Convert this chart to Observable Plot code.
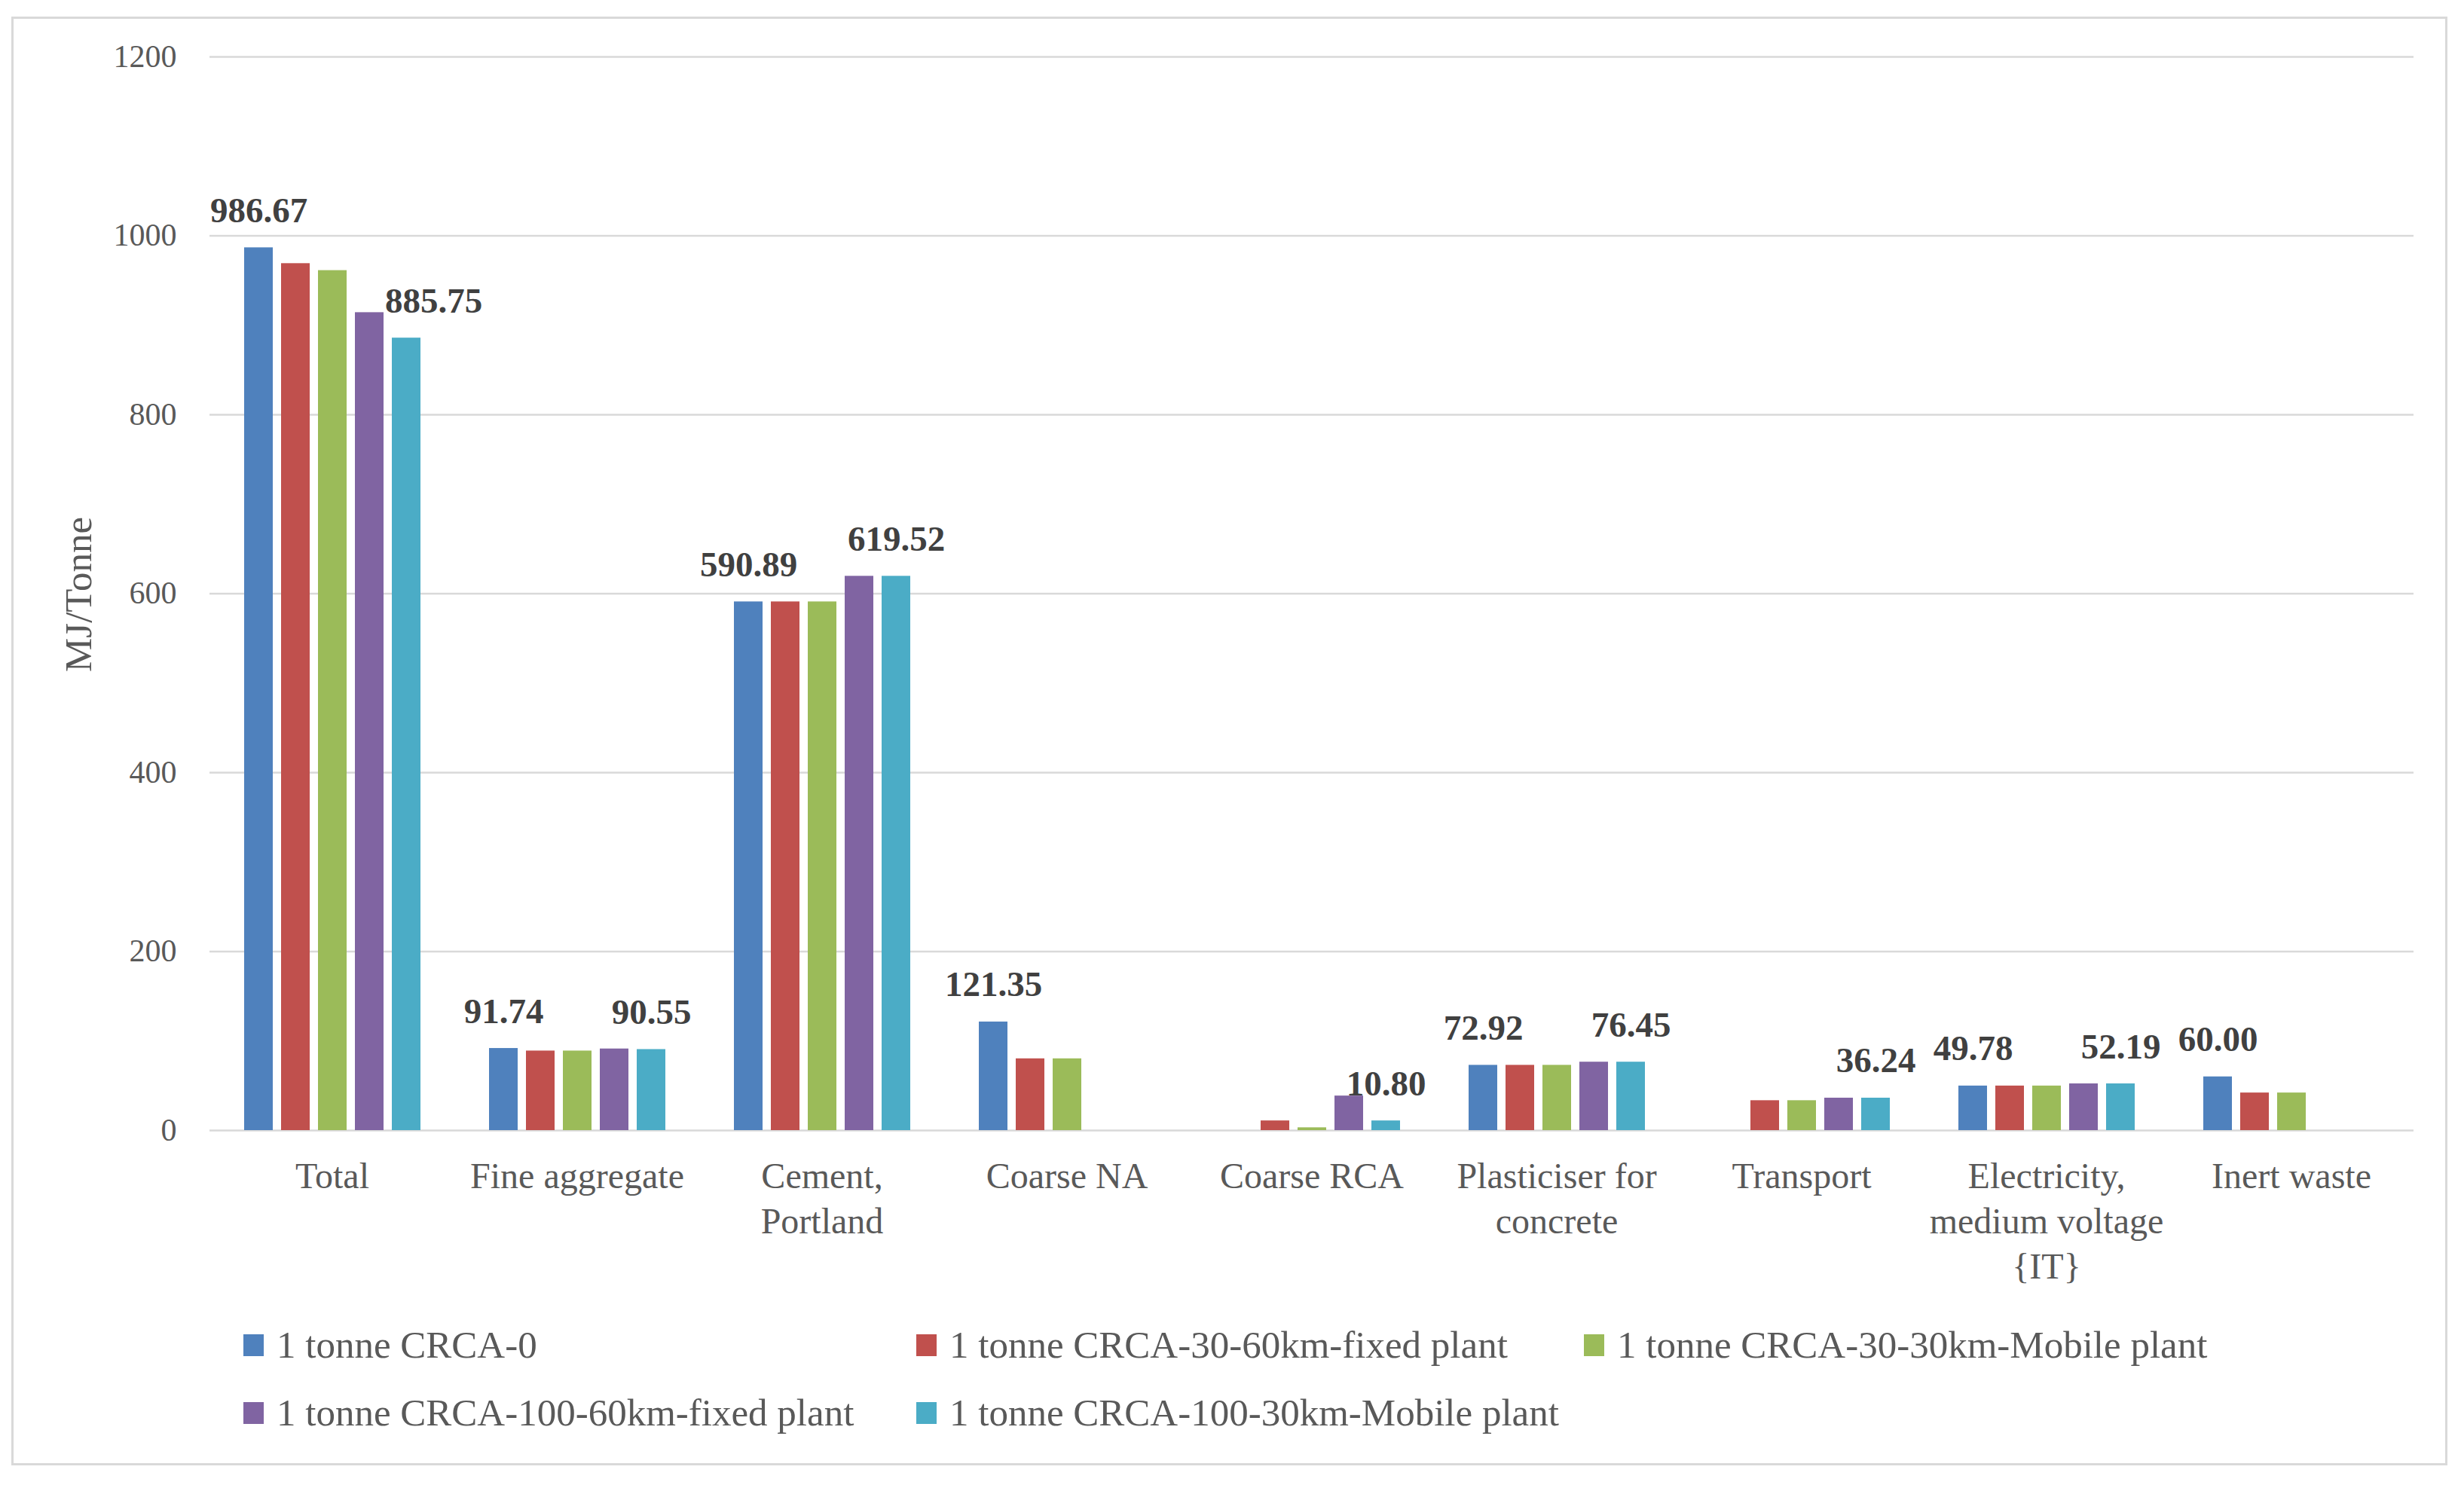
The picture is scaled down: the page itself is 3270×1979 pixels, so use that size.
<!DOCTYPE html>
<html><head><meta charset="utf-8">
<script src="https://cdn.jsdelivr.net/npm/d3@7"></script>
<script src="https://cdn.jsdelivr.net/npm/@observablehq/plot@0.6"></script>
<style>
html,body{margin:0;padding:0;background:#fff;}
body{width:3270px;height:1979px;position:relative;overflow:hidden;font-family:"Liberation Serif",serif;}
#frame{position:absolute;left:15px;top:22px;width:3233px;height:1923px;border:3px solid #d9d9d9;box-sizing:border-box;}
#chart{position:absolute;left:0;top:0;}
#ytitle{position:absolute;left:104px;top:789px;transform:translate(-50%,-50%) rotate(-90deg);font-size:51px;color:#595959;white-space:nowrap;}
#legend{position:absolute;left:323px;top:1740px;display:grid;grid-template-columns:893px 886px auto;grid-auto-rows:90px;color:#595959;font-size:51px;}
.item{display:flex;align-items:center;white-space:nowrap;}
.sw{width:27px;height:29px;margin-right:17px;flex:none;}
</style></head><body>
<div id="frame"></div>
<div id="chart"></div>
<div id="ytitle">MJ/Tonne</div>
<div id="legend"></div>
<script>
const categories = ["Total", "Fine aggregate", "Cement, Portland", "Coarse NA", "Coarse RCA", "Plasticiser for concrete", "Transport", "Electricity, medium voltage {IT}", "Inert waste"];
const categoryLabels = ["Total", "Fine aggregate", "Cement,\nPortland", "Coarse NA", "Coarse RCA", "Plasticiser for\nconcrete", "Transport", "Electricity,\nmedium voltage\n{IT}", "Inert waste"];
const series = ["1 tonne CRCA-0", "1 tonne CRCA-30-60km-fixed plant", "1 tonne CRCA-30-30km-Mobile plant", "1 tonne CRCA-100-60km-fixed plant", "1 tonne CRCA-100-30km-Mobile plant"];
const colors = ["#4F81BD", "#C0504D", "#9BBB59", "#8064A2", "#4BACC6"];
const crca0      = [986.67, 91.74, 590.89, 121.35, 0,     72.92, 0,     49.78, 60.00];
const crca30_60  = [969.0,  88.9,  590.89, 80.2,   10.80, 72.92, 33.4,  49.78, 42.0];
const crca30_30  = [961.2,  88.9,  590.89, 80.2,   3.1,   72.92, 33.4,  49.78, 42.0];
const crca100_60 = [914.2,  91.2,  619.52, 0,      38.6,  76.45, 36.24, 52.19, 0];
const crca100_30 = [885.75, 90.55, 619.52, 0,      10.80, 76.45, 36.24, 52.19, 0];
const yTicks = [0, 200, 400, 600, 800, 1000, 1200];
const labelledSeries = [series[0], series[4]];

const seriesValues = [crca0, crca30_60, crca30_30, crca100_60, crca100_30];
const rows = [];
categories.forEach((c, i) => seriesValues.forEach((vals, j) => rows.push({category: c, series: series[j], value: vals[i]})));
const labelRows = rows.filter(d => labelledSeries.includes(d.series) && d.value > 0);
// the Total / last-series label is nudged right in the original to clear the neighbouring bar
const isNudged = d => d.category === categories[0] && d.series === series[4];

const labelStyle = {fx: "category", x: "series", y: "value", text: d => d.value.toFixed(2), lineAnchor: "bottom", dy: -34, fontSize: 47, fontWeight: "bold", fill: "#404040"};

const chart = Plot.plot({
  width: 3270, height: 1720,
  marginLeft: 277, marginRight: 67, marginTop: 75, marginBottom: 220,
  style: {fontFamily: '"Liberation Serif", serif', color: "#595959", background: "transparent", overflow: "visible"},
  fx: {domain: categories, padding: 0},
  x: {domain: series, paddingInner: 0.232, paddingOuter: 0.9, axis: null},
  y: {domain: [0, 1200]},
  color: {domain: series, range: colors},
  marks: [
    Plot.gridY(yTicks, {stroke: "#d9d9d9", strokeOpacity: 1, strokeWidth: 2.5}),
    Plot.barY(rows, {fx: "category", x: "series", y: "value", fill: "series"}),
    Plot.text(labelRows.filter(d => !isNudged(d)), labelStyle),
    Plot.text(labelRows.filter(isNudged), {...labelStyle, dx: 36}),
    Plot.axisY({ticks: yTicks, tickSize: 0, tickPadding: 44, fontSize: 42, tickFormat: d => String(d), label: null}),
    Plot.axisFx({anchor: "bottom", tickSize: 0, tickPadding: 34, fontSize: 48, lineHeight: 1.25, tickFormat: d => categoryLabels[categories.indexOf(d)], label: null})
  ]
});
document.getElementById("chart").appendChild(chart);

const legend = document.getElementById("legend");
series.forEach((s, i) => {
  const item = document.createElement("div");
  item.className = "item";
  const sw = document.createElement("span");
  sw.className = "sw";
  sw.style.background = colors[i];
  item.appendChild(sw);
  item.appendChild(document.createTextNode(s));
  legend.appendChild(item);
});
</script>
</body></html>
